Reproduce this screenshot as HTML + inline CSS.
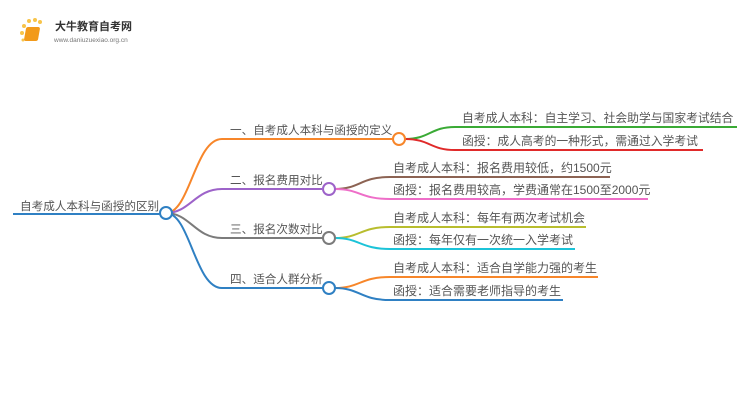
<!DOCTYPE html>
<html><head><meta charset="utf-8"><style>
body{margin:0;background:#fff;width:750px;height:410px;overflow:hidden}
svg text{font-family:"Liberation Sans","Noto Sans CJK SC",sans-serif;fill:#555}
</style></head><body>
<svg width="750" height="410" viewBox="0 0 750 410" xmlns="http://www.w3.org/2000/svg">
<g>
<circle cx="24" cy="26" r="2" fill="#f8c44a"/><circle cx="29" cy="21" r="2" fill="#f8c44a"/><circle cx="35" cy="20" r="2" fill="#f8c44a"/><circle cx="40" cy="22" r="2" fill="#f8c44a"/><circle cx="22" cy="33" r="2" fill="#f8c44a"/><circle cx="23" cy="40" r="1.5" fill="#f8c44a"/>
<rect x="31" y="27" width="14" height="14" rx="2" fill="#f29a1a" transform="skewX(-10)"/>
<text x="55" y="30" font-size="11" style="fill:#333;font-weight:bold">大牛教育自考网</text>
<text x="54" y="42" font-size="6.5" style="fill:#777">www.daniuzuexiao.org.cn</text>
</g>
<g fill="none" stroke-width="2">
<path d="M166 213 C190 213 195 139 222 139 L393 139" stroke="#f7862a"/>
<path d="M166 213 C190 213 195 189 222 189 L322 189" stroke="#9d63c9"/>
<path d="M166 213 C190 213 195 238 222 238 L323 238" stroke="#7b7b7b"/>
<path d="M166 213 C190 213 195 288 222 288 L323 288" stroke="#2f80c3"/>
<path d="M13 214 L160 214" stroke="#2f80c3"/>
<path d="M405 139 C430 139 430 127 455 127 L737 127" stroke="#3aaa35"/>
<path d="M405 139 C430 139 430 150 455 150 L703 150" stroke="#e02a2a"/>
<path d="M335 189 C360 189 360 177 390 177 L610 177" stroke="#8c6353"/>
<path d="M335 189 C360 189 360 199 390 199 L648 199" stroke="#ee6ec8"/>
<path d="M335 238 C360 238 360 227 390 227 L586 227" stroke="#b8bd2e"/>
<path d="M335 238 C360 238 360 249 390 249 L575 249" stroke="#1cc3d8"/>
<path d="M335 288 C360 288 360 277 390 277 L598 277" stroke="#f7862a"/>
<path d="M335 288 C360 288 360 300 390 300 L563 300" stroke="#2f80c3"/>
<circle cx="166" cy="213" r="6" fill="#fff" stroke="#2f80c3"/>
<circle cx="399" cy="139" r="6" fill="#fff" stroke="#f7862a"/>
<circle cx="329" cy="189" r="6" fill="#fff" stroke="#9d63c9"/>
<circle cx="329" cy="238" r="6" fill="#fff" stroke="#7b7b7b"/>
<circle cx="329" cy="288" r="6" fill="#fff" stroke="#2f80c3"/>
</g>
<g font-size="12">
<text x="20" y="210" font-size="11.6">自考成人本科与函授的区别</text>
<text x="230" y="134" font-size="11.6">一、自考成人本科与函授的定义</text>
<text x="230" y="184" font-size="11.6">二、报名费用对比</text>
<text x="230" y="233" font-size="11.6">三、报名次数对比</text>
<text x="230" y="283" font-size="11.6">四、适合人群分析</text>
<text x="462" y="122" font-size="11.8">自考成人本科：自主学习、社会助学与国家考试结合</text>
<text x="462" y="145" font-size="11.8">函授：成人高考的一种形式，需通过入学考试</text>
<text x="393" y="172">自考成人本科：报名费用较低，约1500元</text>
<text x="393" y="194">函授：报名费用较高，学费通常在1500至2000元</text>
<text x="393" y="222">自考成人本科：每年有两次考试机会</text>
<text x="393" y="244">函授：每年仅有一次统一入学考试</text>
<text x="393" y="272">自考成人本科：适合自学能力强的考生</text>
<text x="393" y="295">函授：适合需要老师指导的考生</text>
</g>
</svg>
</body></html>
